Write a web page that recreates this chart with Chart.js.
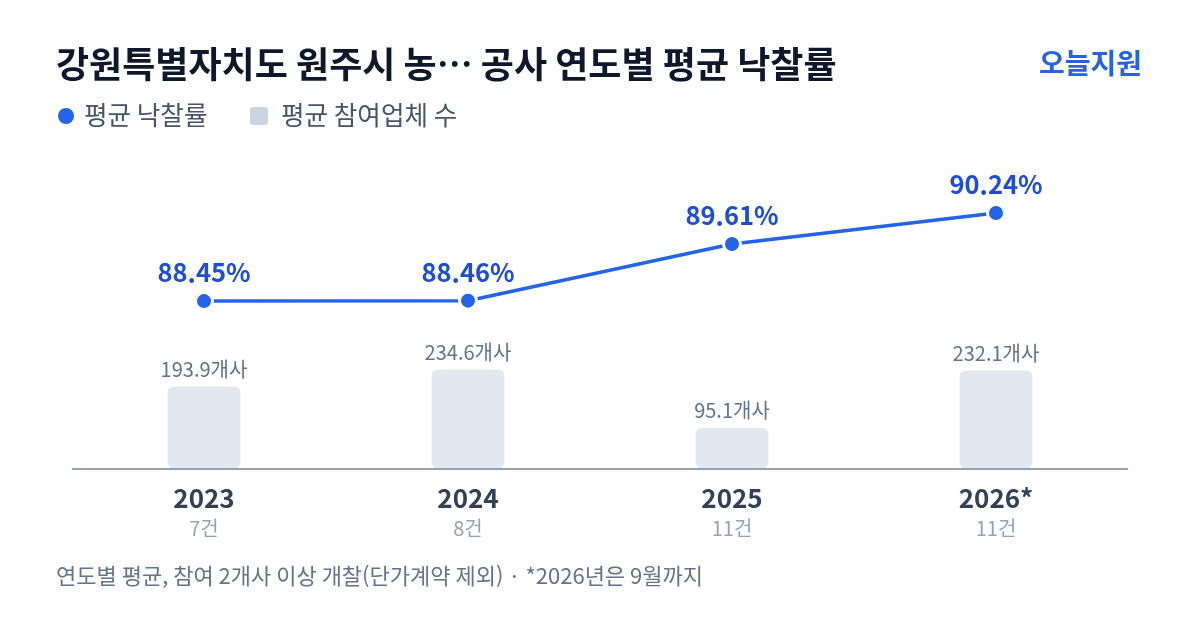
<!DOCTYPE html>
<html lang="ko">
<head>
<meta charset="utf-8">
<script src="https://cdn.jsdelivr.net/npm/chart.js@4"></script>
<style>
  html, body { margin: 0; padding: 0; background: #fff; }
  #wrap { width: 1200px; height: 630px; position: relative; }
</style>
</head>
<body>
<div id="wrap"><canvas id="bidChart" width="1200" height="630"></canvas></div>
<script>
const years = ["2023", "2024", "2025", "2026*"];
const caseCounts = ["7건", "8건", "11건", "11건"];
const avgRate = [88.45, 88.46, 89.61, 90.24];
const avgBidders = [193.9, 234.6, 95.1, 232.1];

const FONT = "'Noto Sans CJK KR', 'Noto Sans', sans-serif";
const BLUE = "#2563eb";

const decorations = {
  id: "decorations",
  afterDatasetsDraw(chart) {
    const ctx = chart.ctx;
    const area = chart.chartArea;
    ctx.save();

    // title + brand
    ctx.textBaseline = "middle";
    ctx.textAlign = "left";
    ctx.fillStyle = "#0f172a";
    ctx.font = "bold 36px " + FONT;
    ctx.fillText("강원특별자치도 원주시 농… 공사 연도별 평균 낙찰률", 56, 64);
    ctx.textAlign = "right";
    ctx.fillStyle = BLUE;
    ctx.font = "bold 28px " + FONT;
    ctx.fillText("오늘지원", 1142, 63);

    // legend
    ctx.textAlign = "left";
    ctx.fillStyle = BLUE;
    ctx.beginPath();
    ctx.arc(66, 116, 8, 0, Math.PI * 2);
    ctx.fill();
    ctx.fillStyle = "#475569";
    ctx.font = "25.6px " + FONT;
    ctx.fillText("평균 낙찰률", 84, 115);
    ctx.fillStyle = "#cbd5e1";
    ctx.beginPath();
    ctx.roundRect(250, 107, 18, 18, 3);
    ctx.fill();
    ctx.fillStyle = "#475569";
    ctx.fillText("평균 참여업체 수", 281, 115);

    // baseline
    ctx.strokeStyle = "#94a3b8";
    ctx.lineWidth = 2;
    ctx.beginPath();
    ctx.moveTo(area.left, area.bottom + 1);
    ctx.lineTo(area.right, area.bottom + 1);
    ctx.stroke();

    // bar labels
    const barMeta = chart.getDatasetMeta(0);
    ctx.textAlign = "center";
    ctx.textBaseline = "alphabetic";
    ctx.fillStyle = "#64748b";
    ctx.font = "20px " + FONT;
    barMeta.data.forEach((bar, i) => {
      ctx.fillText(avgBidders[i].toFixed(1) + "개사", bar.x, bar.y - 10);
    });

    // line labels
    const lineMeta = chart.getDatasetMeta(1);
    ctx.fillStyle = "#1d4ed8";
    ctx.font = "bold 25.5px " + FONT;
    lineMeta.data.forEach((pt, i) => {
      ctx.fillText(avgRate[i].toFixed(2) + "%", pt.x, pt.y - 19);
    });

    // x labels
    const xs = chart.scales.x;
    ctx.textBaseline = "middle";
    years.forEach((y, i) => {
      const x = xs.getPixelForValue(i);
      ctx.fillStyle = "#334155";
      ctx.font = "bold 26px " + FONT;
      ctx.fillText(y, x, 498);
      ctx.fillStyle = "#94a3b8";
      ctx.font = "20px " + FONT;
      ctx.fillText(caseCounts[i], x, 528);
    });

    // footnote
    ctx.textAlign = "left";
    ctx.fillStyle = "#64748b";
    ctx.font = "22px " + FONT;
    ctx.fillText("연도별 평균, 참여 2개사 이상 개찰(단가계약 제외) · *2026년은 9월까지", 56, 576);

    ctx.restore();
  },
};

new Chart(document.getElementById("bidChart"), {
  type: "bar",
  data: {
    labels: years,
    datasets: [
      {
        type: "bar",
        label: "평균 참여업체 수",
        data: avgBidders,
        backgroundColor: "#e2e8f0",
        borderRadius: 6,
        borderSkipped: false,
        barThickness: 72,
        yAxisID: "y",
        order: 2,
      },
      {
        type: "line",
        label: "평균 낙찰률",
        data: avgRate,
        borderColor: BLUE,
        borderWidth: 3.5,
        pointRadius: 8.5,
        pointBackgroundColor: BLUE,
        pointBorderColor: "#fff",
        pointBorderWidth: 3,
        tension: 0,
        yAxisID: "y1",
        order: 1,
      },
    ],
  },
  options: {
    responsive: false,
    animation: false,
    layout: { padding: { left: 72, right: 72, top: 150, bottom: 162 } },
    plugins: { legend: { display: false }, tooltip: { enabled: false } },
    scales: {
      x: { display: false, offset: true },
      y: { display: false, min: 0, max: 760 },
      y1: { display: false, min: 85.06, max: 91.52 },
    },
  },
  plugins: [decorations],
});
</script>
</body>
</html>
